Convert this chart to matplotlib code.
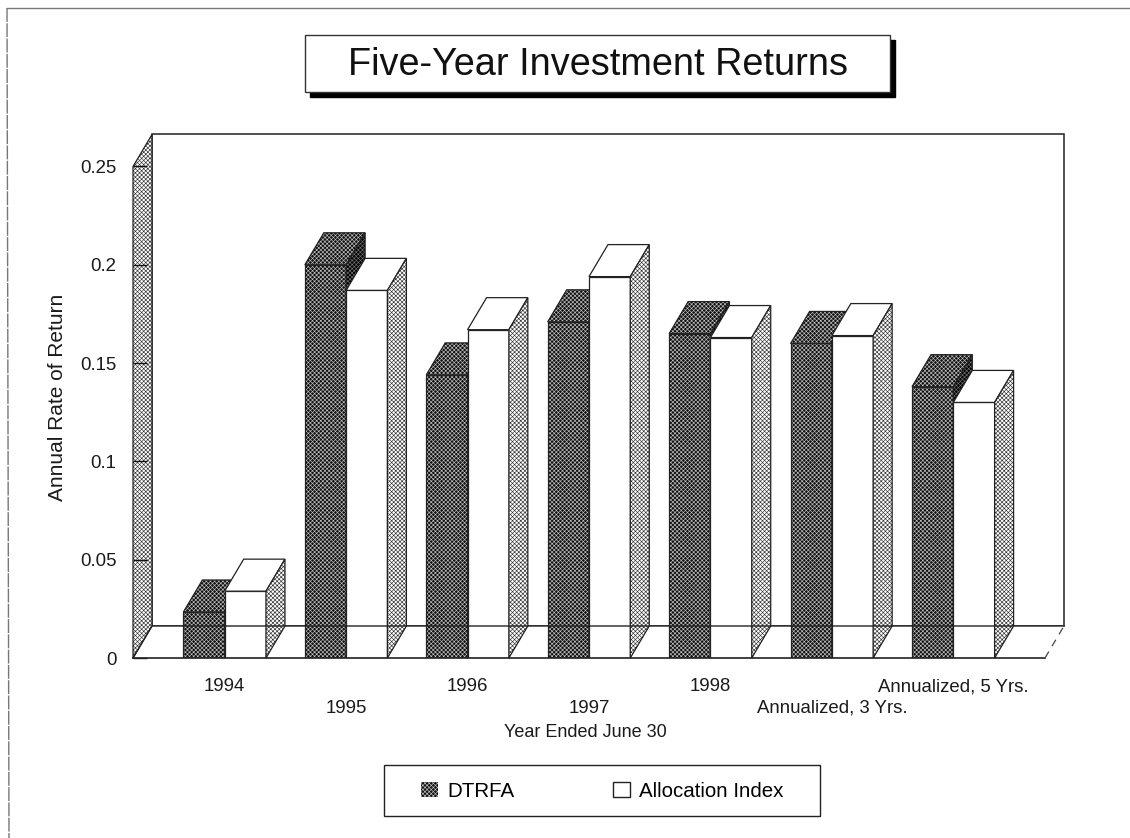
import matplotlib
matplotlib.use("Agg")
import matplotlib.pyplot as plt
from matplotlib.patches import Polygon, Patch, Rectangle

plt.rcParams['font.family'] = ['Liberation Sans', 'DejaVu Sans']
plt.rcParams['hatch.linewidth'] = 0.45

categories = ["1994", "1995", "1996", "1997", "1998", "Annualized, 3 Yrs.", "Annualized, 5 Yrs."]
dtrfa = [0.0234, 0.200, 0.144, 0.171, 0.165, 0.160, 0.138]
allocation = [0.034, 0.187, 0.167, 0.194, 0.163, 0.164, 0.130]
y_ticks = [0, 0.05, 0.1, 0.15, 0.2, 0.25]
y_tick_labels = ["0", "0.05", "0.1", "0.15", "0.2", "0.25"]

W, H = 1130, 838
BAR_W = 0.34
DX = 19 / 121.5    # depth of the 3d look, in data units
DY = 32 / 1966
X0, X1 = -0.755, 6.755
Y0, Y1 = 0, 0.25

DARK = dict(facecolor='#111111', edgecolor='#c0c0c0', hatch='xxxxxxxx', linewidth=0)
DARKER = dict(facecolor='#000000', edgecolor='#707070', hatch='xxxxxxxx', linewidth=0)
WHITE = dict(facecolor='white', edgecolor='white', linewidth=0)
GREY = dict(facecolor='white', edgecolor='#333333', hatch='xxxxxxxx', linewidth=0)


def face(ax, pts, style, lw=0.9):
    ax.add_patch(Polygon(pts, clip_on=False, **style))
    ax.add_patch(Polygon(pts, fill=False, edgecolor='#222222', linewidth=lw, clip_on=False))


def bar3d(ax, left, value, front, top, side):
    right = left + BAR_W
    ax.bar(left, value, BAR_W, align='edge', clip_on=False, **front)
    ax.add_patch(Rectangle((left, 0), BAR_W, value, fill=False, edgecolor='#222222', linewidth=0.9))
    face(ax, [(left, value), (right, value), (right + DX, value + DY), (left + DX, value + DY)], top)
    face(ax, [(right, 0), (right + DX, DY), (right + DX, value + DY), (right, value)], side)


fig = plt.figure(figsize=(W / 100, H / 100), dpi=100)
ax = fig.add_axes([133 / W, 1 - 658 / H, 912 / W, 491.5 / H])
ax.set_xlim(X0, X1)
ax.set_ylim(Y0, Y1)
ax.patch.set_visible(False)
for s in ax.spines.values():
    s.set_visible(False)

# back wall, floor, left wall
face(ax, [(X0 + DX, DY), (X1 + DX, DY), (X1 + DX, Y1 + DY), (X0 + DX, Y1 + DY)], WHITE, lw=1.1)
ax.add_patch(Polygon([(X0, 0), (X0 + DX, DY), (X1 + DX, DY), (X1, 0)], facecolor='white',
                     edgecolor='none', clip_on=False))
ax.plot([X0, X0 + DX, X1 + DX], [0, DY, DY], color='#222222', lw=1.0, clip_on=False)
ax.plot([X0, X1], [0, 0], color='#222222', lw=1.2, clip_on=False)
ax.plot([X1, X1 + DX], [0, DY], color='#444444', lw=0.9, ls=(0, (6, 5)), clip_on=False)
face(ax, [(X0, 0), (X0 + DX, DY), (X0 + DX, Y1 + DY), (X0, Y1)], GREY)

for i in range(len(categories)):
    bar3d(ax, i - BAR_W, dtrfa[i], DARK, DARK, DARKER)
    bar3d(ax, i, allocation[i], WHITE, WHITE, GREY)

ax.set_yticks(y_ticks)
ax.set_yticklabels(y_tick_labels, fontsize=13.4, color='#1a1a1a')
ax.tick_params(axis='y', direction='in', length=10, width=1.0, pad=12, color='#111111')
ax.set_xticks(range(len(categories)))
ax.set_xticklabels(categories, fontsize=13.4, color='#1a1a1a')
ax.tick_params(axis='x', length=0, pad=14.5)
for i, t in enumerate(ax.xaxis.get_major_ticks()):
    if i % 2 == 1:
        t.set_pad(30)

ax.set_ylabel("Annual Rate of Return", fontsize=15, color='#1a1a1a')
ax.yaxis.set_label_coords((67 - 133) / 912, (658 - 397) / 491.5)
ax.set_xlabel("Year Ended June 30", fontsize=13, color='#1a1a1a')
ax.xaxis.set_label_coords((585 - 133) / 912, (658 - 724) / 491.5)

# title box with drop shadow
fig.add_artist(Rectangle((310 / W, 1 - 97 / H), 585 / W, 57 / H, transform=fig.transFigure,
                         facecolor='black', edgecolor='black'))
fig.add_artist(Rectangle((305 / W, 1 - 92 / H), 585 / W, 57 / H, transform=fig.transFigure,
                         facecolor='white', edgecolor='#333333', linewidth=1))
fig.text(598 / W, 1 - 65 / H, "Five-Year Investment Returns", fontsize=27.3,
         ha='center', va='center', color='#111111')

# legend frame drawn by hand, padding differs between x and y
fig.add_artist(Rectangle((384 / W, 1 - 816 / H), 436 / W, 51 / H, transform=fig.transFigure,
                         facecolor='white', edgecolor='#222222', linewidth=1))
handles = [Patch(label="DTRFA", **DARK), Patch(facecolor='white', edgecolor='#222222', label="Allocation Index")]
leg = fig.legend(handles=handles, ncol=2, fontsize=14.8, loc='center', bbox_to_anchor=(602 / W, 1 - 791 / H),
                 frameon=False, handlelength=0.83, handleheight=0.7,
                 handletextpad=0.44, columnspacing=4.78, borderaxespad=0)
leg.set_zorder(5)

# page edge from the scan
fig.add_artist(plt.Line2D([7 / W, 9 / W], [1 - 8 / H, 0], color='#777777', lw=1.0, ls=(0, (10, 1))))
fig.add_artist(plt.Line2D([7 / W, 1], [1 - 8 / H, 1 - 8 / H], color='#777777', lw=1.0))

fig.savefig("out.png", dpi=100)
